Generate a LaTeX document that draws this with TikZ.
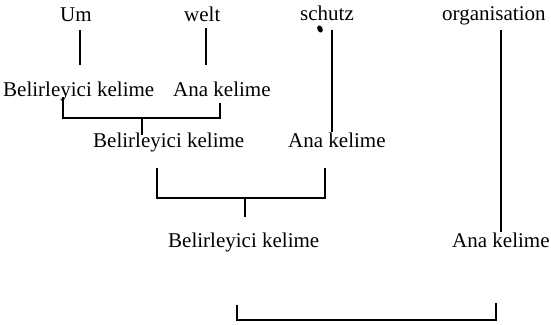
\documentclass[tikz,border=0pt]{standalone}
\usepackage{fontspec}
\setmainfont{Liberation Serif}
\begin{document}
\begin{tikzpicture}[x=1pt,y=-1pt,
  word/.style={anchor=base west,inner sep=0pt,font=\fontsize{21}{24}\selectfont},
  link/.style={line width=1.3pt,line cap=butt}]
\useasboundingbox (0,0) rectangle (551,324);
% texts
\node[word] (um)   at (60,21)  {Um};
\node[word] (welt) at (184,21) {welt};
\node[word] (sch)  at (300,20) {schutz};
\node[word] (org)  at (442,20) {organisation};
\node[word] (b1)   at (3,96)   {Belirleyici kelime};
\node[word] (a1)   at (173,96) {Ana kelime};
\node[word] (b2)   at (93,147) {Belirleyici kelime};
\node[word] (a2)   at (288,147){Ana kelime};
\node[word] (b3)   at (168,247){Belirleyici kelime};
\node[word] (a3)   at (452,247){Ana kelime};
% coordinates
\coordinate (umT) at (80,30);   \coordinate (umB) at (80,65);
\coordinate (weT) at (206,28);  \coordinate (weB) at (206,65);
\coordinate (scT) at (332,30);  \coordinate (scB) at (332,132);
\coordinate (orT) at (501,30);  \coordinate (orB) at (501,232);
\coordinate (k1L) at (63,97);   \coordinate (k1R) at (220,103);
\coordinate (k1M) at (142,118); \coordinate (k1D) at (142,135);
\coordinate (k2L) at (157,168); \coordinate (k2R) at (325,168);
\coordinate (k2M) at (245,198); \coordinate (k2D) at (245,217);
\coordinate (k3L) at (237,305); \coordinate (k3R) at (496,303);
% vertical links
\draw[link] (umT) -- (umB);
\draw[link] (weT) -- (weB);
\draw[link] (scT) -- (scB);
\draw[link] (orT) -- (orB);
% brackets
\draw[link] (k1L) -- (63,118) -- (220,118) -- (k1R);
\draw[link] (k1M) -- (k1D);
\draw[link] (k2L) -- (157,198) -- (325,198) -- (k2R);
\draw[link] (k2M) -- (k2D);
\draw[link] (k3L) -- (237,320) -- (496,320) -- (k3R);
% ink blot
\fill[rotate around={25:(320,29)}] (320,29) ellipse (2.6pt and 3.8pt);
\end{tikzpicture}
\end{document}
